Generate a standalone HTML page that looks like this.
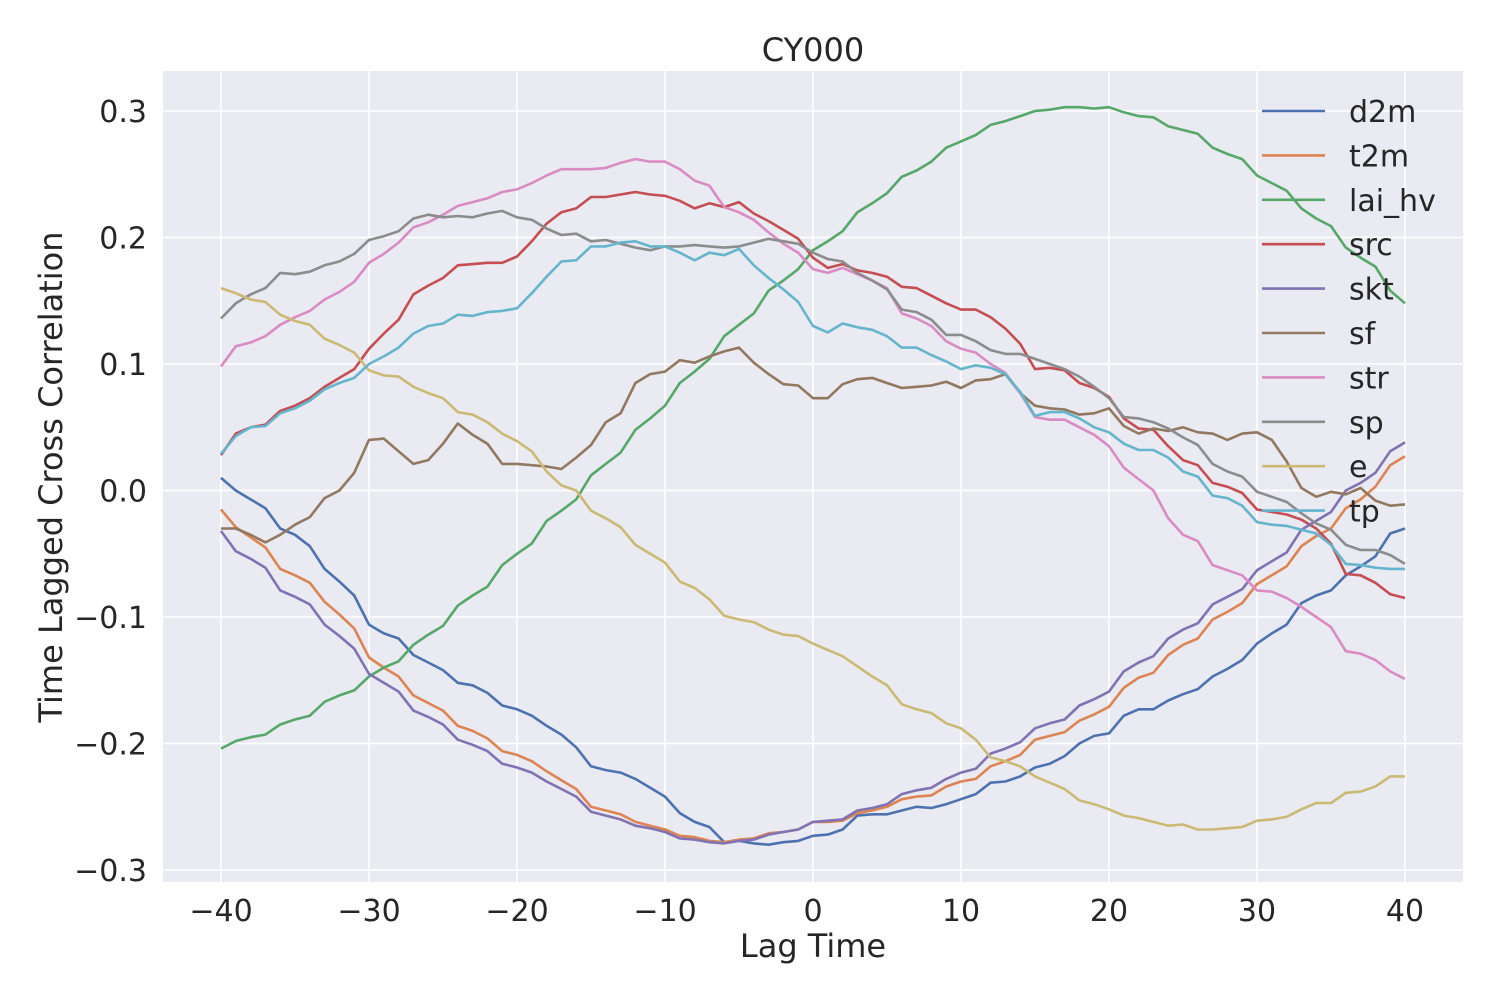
<!DOCTYPE html>
<html><head><meta charset="utf-8"><style>
body{margin:0;background:#fff;}
svg{display:block;font-family:"DejaVu Sans","Liberation Sans",sans-serif;}
</style></head><body>
<svg id="chart" width="1500" height="1000" viewBox="0 0 1500 1000">
<rect x="163" y="71" width="1300" height="811" fill="#eaeaf2"/>
<g id="grid"></g>
<g id="series"></g>
<g id="ticks"></g>
<text x="813" y="61" text-anchor="middle" font-size="32" fill="#262626">CY000</text>
<text x="813" y="957" text-anchor="middle" font-size="32" fill="#262626">Lag Time</text>
<text transform="translate(62,477) rotate(-90)" text-anchor="middle" font-size="32" fill="#262626">Time Lagged Cross Correlation</text>
<g id="legend"></g>
</svg>
<script>
const lags = [];
for (let i = -40; i <= 40; i++) lags.push(i);
const seriesNames = ["d2m","t2m","lai_hv","src","skt","sf","str","sp","e","tp"];
const colors = ["#4c72b0","#dd8452","#55a868","#c44e52","#8172b3","#937860","#da8bc3","#8c8c8c","#ccb974","#64b5cd"];
const xTicks = [-40,-30,-20,-10,0,10,20,30,40];
const yTicks = [-0.3,-0.2,-0.1,0.0,0.1,0.2,0.3];
const yTickLabels = ["\u22120.3","\u22120.2","\u22120.1","0.0","0.1","0.2","0.3"];
const xTickLabels = ["\u221240","\u221230","\u221220","\u221210","0","10","20","30","40"];
const d2m = [0.010,0.000,-0.007,-0.014,-0.030,-0.035,-0.044,-0.062,-0.072,-0.083,-0.106,-0.113,-0.117,-0.130,-0.136,-0.142,-0.152,-0.154,-0.160,-0.170,-0.173,-0.178,-0.186,-0.193,-0.203,-0.218,-0.221,-0.223,-0.228,-0.235,-0.242,-0.255,-0.262,-0.266,-0.278,-0.277,-0.279,-0.280,-0.278,-0.277,-0.273,-0.272,-0.268,-0.257,-0.256,-0.256,-0.253,-0.250,-0.251,-0.248,-0.244,-0.240,-0.231,-0.230,-0.226,-0.219,-0.216,-0.210,-0.200,-0.194,-0.192,-0.178,-0.173,-0.173,-0.166,-0.161,-0.157,-0.147,-0.141,-0.134,-0.121,-0.113,-0.106,-0.089,-0.083,-0.079,-0.067,-0.060,-0.052,-0.034,-0.030];
const t2m = [-0.015,-0.029,-0.037,-0.045,-0.062,-0.067,-0.073,-0.088,-0.098,-0.109,-0.132,-0.140,-0.147,-0.162,-0.168,-0.174,-0.186,-0.190,-0.196,-0.206,-0.209,-0.214,-0.222,-0.229,-0.236,-0.250,-0.253,-0.256,-0.262,-0.265,-0.268,-0.273,-0.274,-0.277,-0.278,-0.276,-0.275,-0.271,-0.270,-0.268,-0.262,-0.262,-0.261,-0.255,-0.253,-0.250,-0.244,-0.242,-0.241,-0.234,-0.230,-0.228,-0.218,-0.214,-0.209,-0.197,-0.194,-0.191,-0.182,-0.177,-0.171,-0.156,-0.148,-0.144,-0.130,-0.122,-0.117,-0.102,-0.096,-0.089,-0.074,-0.067,-0.060,-0.044,-0.036,-0.030,-0.014,-0.007,0.003,0.020,0.027];
const lai_hv = [-0.204,-0.198,-0.195,-0.193,-0.185,-0.181,-0.178,-0.167,-0.162,-0.158,-0.147,-0.140,-0.135,-0.122,-0.114,-0.107,-0.091,-0.083,-0.076,-0.059,-0.050,-0.042,-0.024,-0.016,-0.007,0.012,0.021,0.030,0.048,0.057,0.067,0.085,0.094,0.104,0.122,0.131,0.140,0.158,0.166,0.175,0.190,0.197,0.205,0.220,0.227,0.235,0.248,0.253,0.260,0.271,0.276,0.281,0.289,0.292,0.296,0.300,0.301,0.303,0.303,0.302,0.303,0.299,0.296,0.295,0.288,0.285,0.282,0.271,0.266,0.262,0.249,0.243,0.237,0.223,0.215,0.209,0.192,0.184,0.177,0.158,0.148];
const src = [0.028,0.045,0.050,0.052,0.063,0.067,0.073,0.082,0.089,0.096,0.112,0.124,0.135,0.155,0.162,0.168,0.178,0.179,0.180,0.180,0.185,0.197,0.211,0.220,0.223,0.232,0.232,0.234,0.236,0.234,0.233,0.229,0.223,0.227,0.224,0.228,0.219,0.213,0.206,0.199,0.184,0.176,0.179,0.174,0.172,0.169,0.161,0.160,0.154,0.148,0.143,0.143,0.137,0.128,0.116,0.096,0.097,0.095,0.085,0.081,0.074,0.057,0.049,0.048,0.035,0.024,0.020,0.006,0.003,-0.002,-0.015,-0.017,-0.019,-0.023,-0.030,-0.042,-0.066,-0.067,-0.073,-0.082,-0.085];
const skt = [-0.032,-0.048,-0.054,-0.061,-0.079,-0.084,-0.090,-0.106,-0.115,-0.125,-0.145,-0.152,-0.159,-0.174,-0.179,-0.185,-0.197,-0.201,-0.206,-0.216,-0.219,-0.223,-0.230,-0.236,-0.242,-0.254,-0.257,-0.260,-0.265,-0.267,-0.270,-0.275,-0.276,-0.278,-0.279,-0.277,-0.276,-0.272,-0.270,-0.268,-0.262,-0.261,-0.260,-0.253,-0.251,-0.248,-0.240,-0.237,-0.235,-0.228,-0.223,-0.220,-0.208,-0.204,-0.199,-0.188,-0.184,-0.181,-0.170,-0.165,-0.159,-0.143,-0.136,-0.131,-0.117,-0.110,-0.105,-0.090,-0.084,-0.078,-0.063,-0.056,-0.049,-0.031,-0.024,-0.017,0.000,0.006,0.014,0.031,0.038];
const sf = [-0.030,-0.030,-0.035,-0.041,-0.035,-0.027,-0.021,-0.006,0.000,0.014,0.040,0.041,0.031,0.021,0.024,0.037,0.053,0.044,0.037,0.021,0.021,0.020,0.019,0.017,0.026,0.036,0.054,0.061,0.085,0.092,0.094,0.103,0.101,0.106,0.110,0.113,0.101,0.092,0.084,0.083,0.073,0.073,0.084,0.088,0.089,0.085,0.081,0.082,0.083,0.086,0.081,0.087,0.088,0.092,0.077,0.067,0.065,0.064,0.060,0.061,0.065,0.051,0.045,0.049,0.047,0.050,0.046,0.045,0.040,0.045,0.046,0.040,0.023,0.002,-0.005,-0.001,-0.003,0.002,-0.008,-0.012,-0.011];
const str = [0.098,0.114,0.117,0.122,0.131,0.137,0.142,0.151,0.157,0.165,0.180,0.187,0.196,0.208,0.212,0.218,0.225,0.228,0.231,0.236,0.238,0.243,0.249,0.254,0.254,0.254,0.255,0.259,0.262,0.260,0.260,0.254,0.245,0.241,0.224,0.220,0.214,0.204,0.195,0.188,0.175,0.172,0.176,0.171,0.166,0.160,0.140,0.136,0.130,0.118,0.112,0.109,0.100,0.093,0.077,0.058,0.056,0.056,0.050,0.044,0.035,0.018,0.009,0.000,-0.022,-0.035,-0.040,-0.059,-0.063,-0.067,-0.079,-0.080,-0.085,-0.092,-0.100,-0.108,-0.127,-0.129,-0.134,-0.143,-0.149];
const sp = [0.136,0.148,0.155,0.160,0.172,0.171,0.173,0.178,0.181,0.187,0.198,0.201,0.205,0.215,0.218,0.216,0.217,0.216,0.219,0.221,0.216,0.214,0.207,0.202,0.203,0.197,0.198,0.195,0.192,0.190,0.193,0.193,0.194,0.193,0.192,0.193,0.196,0.199,0.197,0.195,0.188,0.183,0.181,0.172,0.166,0.159,0.143,0.141,0.135,0.123,0.123,0.118,0.111,0.108,0.108,0.104,0.100,0.096,0.090,0.082,0.073,0.058,0.057,0.054,0.049,0.042,0.036,0.021,0.015,0.011,-0.001,-0.005,-0.009,-0.018,-0.026,-0.031,-0.043,-0.047,-0.047,-0.051,-0.058];
const e = [0.160,0.156,0.151,0.149,0.139,0.134,0.131,0.120,0.115,0.109,0.095,0.091,0.090,0.082,0.077,0.073,0.062,0.060,0.054,0.045,0.039,0.031,0.015,0.004,0.000,-0.016,-0.022,-0.029,-0.043,-0.050,-0.057,-0.072,-0.077,-0.086,-0.099,-0.102,-0.104,-0.110,-0.114,-0.115,-0.121,-0.126,-0.131,-0.139,-0.147,-0.154,-0.169,-0.173,-0.176,-0.184,-0.188,-0.197,-0.211,-0.214,-0.218,-0.226,-0.231,-0.236,-0.245,-0.248,-0.252,-0.257,-0.259,-0.262,-0.265,-0.264,-0.268,-0.268,-0.267,-0.266,-0.261,-0.260,-0.258,-0.252,-0.247,-0.247,-0.239,-0.238,-0.234,-0.226,-0.226];
const tp = [0.029,0.043,0.050,0.051,0.061,0.065,0.071,0.080,0.085,0.089,0.100,0.106,0.113,0.124,0.130,0.132,0.139,0.138,0.141,0.142,0.144,0.156,0.169,0.181,0.182,0.193,0.193,0.196,0.197,0.193,0.193,0.188,0.182,0.188,0.186,0.191,0.178,0.168,0.159,0.149,0.130,0.125,0.132,0.129,0.127,0.122,0.113,0.113,0.107,0.102,0.096,0.099,0.097,0.092,0.078,0.059,0.062,0.062,0.057,0.050,0.046,0.037,0.032,0.032,0.026,0.015,0.011,-0.004,-0.006,-0.012,-0.025,-0.027,-0.028,-0.031,-0.034,-0.043,-0.058,-0.059,-0.061,-0.062,-0.062];
const allSeries = [d2m,t2m,lai_hv,src,skt,sf,str,sp,e,tp];

const NS = "http://www.w3.org/2000/svg";
function xScale(v){ return 221 + (v + 40) * (1405 - 221) / 80; }
function yScale(v){ return 490.5 - v * 1265; }
function mk(tag, attrs, parent){ const el = document.createElementNS(NS, tag); for (const k in attrs) el.setAttribute(k, attrs[k]); parent.appendChild(el); return el; }

const grid = document.getElementById("grid");
const ticks = document.getElementById("ticks");
xTicks.forEach((t, i) => {
  const gl = mk("line", {x1:xScale(t), x2:xScale(t), y1:71, y2:882, stroke:"#fff", "stroke-width":1.6}, grid);
  
  
  const tx = mk("text", {x:xScale(t), y:921, "text-anchor":"middle", "font-size":30, fill:"#262626"}, ticks);
  tx.textContent = xTickLabels[i];
  
  
});
yTicks.forEach((t, i) => {
  const gl = mk("line", {x1:163, x2:1463, y1:yScale(t), y2:yScale(t), stroke:"#fff", "stroke-width":1.6}, grid);
  
  
  const tx = mk("text", {x:147, y:yScale(t) + 11, "text-anchor":"end", "font-size":30, fill:"#262626"}, ticks);
  tx.textContent = yTickLabels[i];
  
  
});

const sg = document.getElementById("series");
allSeries.forEach((vals, si) => {
  const pts = vals.map((v, i) => xScale(lags[i]).toFixed(1) + "," + yScale(v).toFixed(1)).join(" ");
  const pl = mk("polyline", {points:pts, fill:"none", stroke:colors[si], "stroke-width":2.6, "stroke-linejoin":"round"}, sg);
  
  
});

const lg = document.getElementById("legend");
seriesNames.forEach((n, i) => {
  const y = 111 + i * 44.4;
  const ln = mk("line", {x1:1262, x2:1325, y1:y, y2:y, stroke:colors[i], "stroke-width":2.6}, lg);
  
  
  const tx = mk("text", {x:1349, y:y + 11, "font-size":30, fill:"#262626"}, lg);
  tx.textContent = n;
  
  
});
</script>
</body></html>
